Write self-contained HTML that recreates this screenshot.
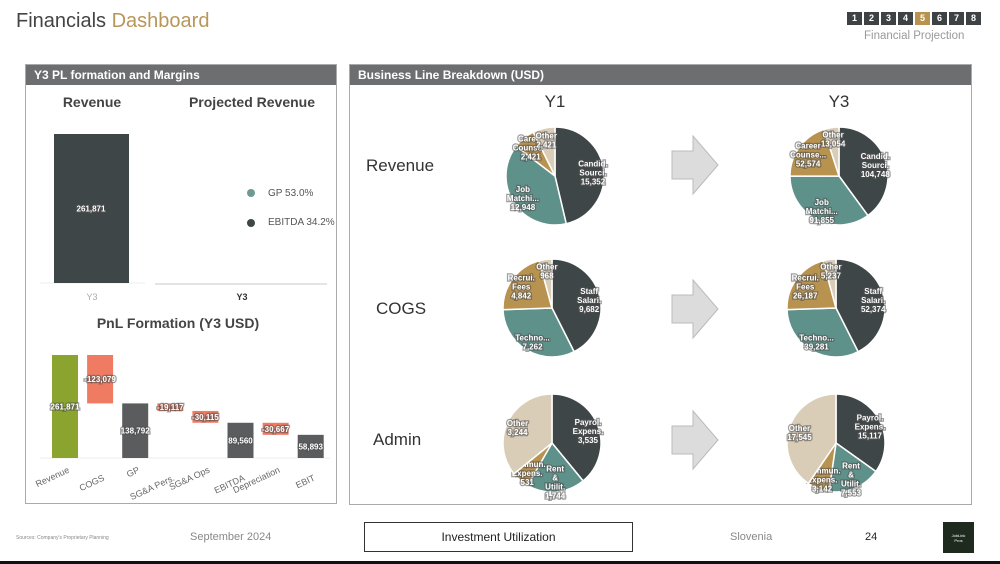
<!DOCTYPE html>
<html><head><meta charset="utf-8"><style>
body{margin:0;width:1000px;height:564px;background:#fff;font-family:"Liberation Sans",sans-serif;overflow:hidden;position:relative}
.abs{position:absolute}
svg text{font-family:"Liberation Sans",sans-serif}
.lbl{fill:#fff;font-size:8px;font-weight:bold;paint-order:stroke;stroke:rgba(80,80,80,.55);stroke-width:2.5px}
</style></head><body>
<div class="abs" style="left:16px;top:10px;font-size:20px;color:#444">Financials <span style="color:#b8965a">Dashboard</span></div>
<div class="abs" style="left:847px;top:12px;display:flex;gap:2px">
<script>
for(let i=1;i<=8;i++){document.write('<div style="width:15px;height:13px;background:'+(i==5?'#b8924f':'#3f4244')+';color:#fff;font-size:9px;font-weight:bold;text-align:center;line-height:13px">'+i+'</div>')}
</script></div>
<div class="abs" style="left:864px;top:30px;font-size:11.5px;color:#999">Financial Projection</div>

<div class="abs" style="left:25px;top:64px;width:312px;height:440px;border:1px solid #aaa;box-sizing:border-box">
<div style="background:#6d6e70;color:#fff;font-size:12px;font-weight:bold;height:20px;line-height:20px;padding-left:8px">Y3 PL formation and Margins</div></div>
<div class="abs" style="left:349px;top:64px;width:623px;height:441px;border:1px solid #aaa;box-sizing:border-box">
<div style="background:#6d6e70;color:#fff;font-size:12px;font-weight:bold;height:20px;line-height:20px;padding-left:8px">Business Line Breakdown (USD)</div></div>

<svg class="abs" style="left:0;top:0" width="1000" height="564" id="chart">
<text x="92" y="107" font-size="14" font-weight="bold" fill="#444" text-anchor="middle">Revenue</text>
<text x="252" y="107" font-size="14" font-weight="bold" fill="#444" text-anchor="middle">Projected Revenue</text>
<line x1="40" y1="283" x2="145" y2="283" stroke="#eee"/>
<line x1="155" y1="284" x2="327" y2="284" stroke="#e4e4e4" stroke-width="2"/>
<text x="92" y="300" font-size="9" fill="#aaa" text-anchor="middle">Y3</text>
<text x="242" y="300" font-size="9" fill="#333" font-weight="bold" text-anchor="middle">Y3</text>
<circle cx="251" cy="193" r="4" fill="#6f9a92"/>
<text x="268" y="196" font-size="10" fill="#555">GP 53.0%</text>
<circle cx="251" cy="223" r="4" fill="#3f4647"/>
<text x="268" y="225" font-size="10" fill="#555">EBITDA 34.2%</text>
<text x="178" y="328" font-size="14" font-weight="bold" fill="#444" text-anchor="middle">PnL Formation (Y3  USD)</text>
<line x1="40" y1="458" x2="330" y2="458" stroke="#eee"/>
<text x="555" y="107" font-size="17" fill="#333" text-anchor="middle">Y1</text>
<text x="839" y="107" font-size="17" fill="#333" text-anchor="middle">Y3</text>
<text x="366" y="171" font-size="17" fill="#333">Revenue</text>
<text x="376" y="314" font-size="17" fill="#333">COGS</text>
<text x="373" y="445" font-size="17" fill="#333">Admin</text>
<g id="g"></g>
</svg>

<div class="abs" style="left:16px;top:535px;font-size:5px;color:#888">Sources: Company's Proprietary Planning</div>
<div class="abs" style="left:190px;top:531px;font-size:11px;color:#888">September 2024</div>
<div class="abs" style="left:364px;top:522px;width:269px;height:30px;border:1px solid #333;box-sizing:border-box;text-align:center;line-height:28px;font-size:12px;color:#222">Investment Utilization</div>
<div class="abs" style="left:730px;top:531px;font-size:11px;color:#888">Slovenia</div>
<div class="abs" style="left:865px;top:531px;font-size:11px;color:#222">24</div>
<div class="abs" style="left:943px;top:522px;width:31px;height:31px;background:#1e2a1e;color:#fff;font-size:4px;text-align:center;padding-top:11px;box-sizing:border-box">JobLink<br>Pros</div>
<div class="abs" style="left:0;top:561px;width:1000px;height:3px;background:#111"></div>

<script>
const NS='http://www.w3.org/2000/svg';
const g=document.getElementById('g');
function mk(t,a){const e=document.createElementNS(NS,t);for(const k in a)e.setAttribute(k,a[k]);g.appendChild(e);return e;}

// Revenue bar
const revCat=['Y3'];
const revVal=[261871];
const revY=v=>283-v*(149/261871);
let e=mk('rect',{x:54,y:revY(revVal[0]),width:75,height:283-revY(revVal[0]),fill:'#3f4647'});


e=mk('text',{x:91,y:(revY(revVal[0])+283)/2+3,'text-anchor':'middle',class:'lbl','font-size':9});
e.textContent=revVal[0].toLocaleString('en-US');



// Waterfall
const wfCats=['Revenue','COGS','GP','SG&A Pers.','SG&A Ops','EBITDA','Depreciation','EBIT'];
const wfVals=[261871,-123079,138792,-19117,-30115,89560,-30667,58893];
const wfTotal=[true,false,true,false,false,true,false,true];
const wfY=v=>458-v*(103/261871);
let run=0;
wfCats.forEach((c,i)=>{
  const x=52+i*35.1, v=wfVals[i];
  let top,bot,fill;
  if(wfTotal[i]){top=v;bot=0;run=v;fill=i==0?'#8aa42f':'#5a5c5e';}
  else{top=run;bot=run+v;run=bot;fill='#ee7b62';}
  const r=mk('rect',{x:x,y:wfY(top),width:26,height:Math.max(wfY(bot)-wfY(top),1),fill:fill});
  
  
  const t=mk('text',{x:x+13,y:(wfY(top)+wfY(bot))/2+3,'text-anchor':'middle',class:'lbl','font-size':9});
  t.textContent=(v<0?'-':'')+Math.abs(v).toLocaleString('en-US');
  
  
  const cx=x+18, cy=468+(i%2?12:4);
  const l=mk('text',{x:cx,y:cy,'text-anchor':'end','font-size':9,fill:'#666',transform:`rotate(-25 ${cx} ${cy})`});
  l.textContent=c;
  
  
});

// Pies
const pieColors=['#3f4647','#5f918b','#b8924f','#d9cdb8'];
const revNames=['Candid. Sourci.','Job Matchi...','Career Counse...','Other'];
const revY1=[15352,12948,2421,2421];
const revY3=[104748,91855,52574,13054];
const cogsNames=['Staff Salari.','Techno...','Recrui. Fees','Other'];
const cogsY1=[9682,7262,4842,968];
const cogsY3=[52374,39281,26187,5237];
const admNames=['Payrol. Expens.','Rent & Utilit.','Commun. Expens.','Other'];
const admY1=[3535,1744,531,3244];
const admY3=[15117,7553,3142,17545];

function pie(cx,cy,r,vals,names,nm){
  const tot=vals.reduce((a,b)=>a+b,0);let a0=-Math.PI/2;
  vals.forEach((v,i)=>{
    const a1=a0+v/tot*2*Math.PI;
    const p=`M${cx},${cy}L${cx+r*Math.cos(a0)},${cy+r*Math.sin(a0)}A${r},${r} 0 ${a1-a0>Math.PI?1:0} 1 ${cx+r*Math.cos(a1)},${cy+r*Math.sin(a1)}Z`;
    const s=mk('path',{d:p,fill:pieColors[i],stroke:'#fff','stroke-width':1.5});
    
    
    const am=(a0+a1)/2, lr=r*0.78;
    const t=mk('text',{x:cx+lr*Math.cos(am),y:cy+lr*Math.sin(am),'text-anchor':'middle',class:'lbl','font-size':8});
    const w=names[i].split(' ');
    w.concat([v.toLocaleString('en-US')]).forEach((s2,k)=>{const ts=document.createElementNS(NS,'tspan');ts.setAttribute('x',cx+lr*Math.cos(am));ts.setAttribute('dy',k?9:-((w.length)*9)/2+4);ts.textContent=s2;t.appendChild(ts);});
    
    
    a0=a1;
  });
}
pie(555,176,49,revY1,revNames,'revenue-y1-pie');
pie(839,176,49,revY3,revNames,'revenue-y3-pie');
pie(552,308,49,cogsY1,cogsNames,'cogs-y1-pie');
pie(836,308,49,cogsY3,cogsNames,'cogs-y3-pie');
pie(552,443,49,admY1,admNames,'admin-y1-pie');
pie(836,443,49,admY3,admNames,'admin-y3-pie');

[165,309,440].forEach((cy,i)=>{
  const a=mk('path',{d:`M672,${cy-14}H693V${cy-29}L718,${cy}L693,${cy+29}V${cy+14}H672Z`,fill:'#dcdcdc',stroke:'#bbb','stroke-width':1});
  
  
});
</script>
</body></html>
